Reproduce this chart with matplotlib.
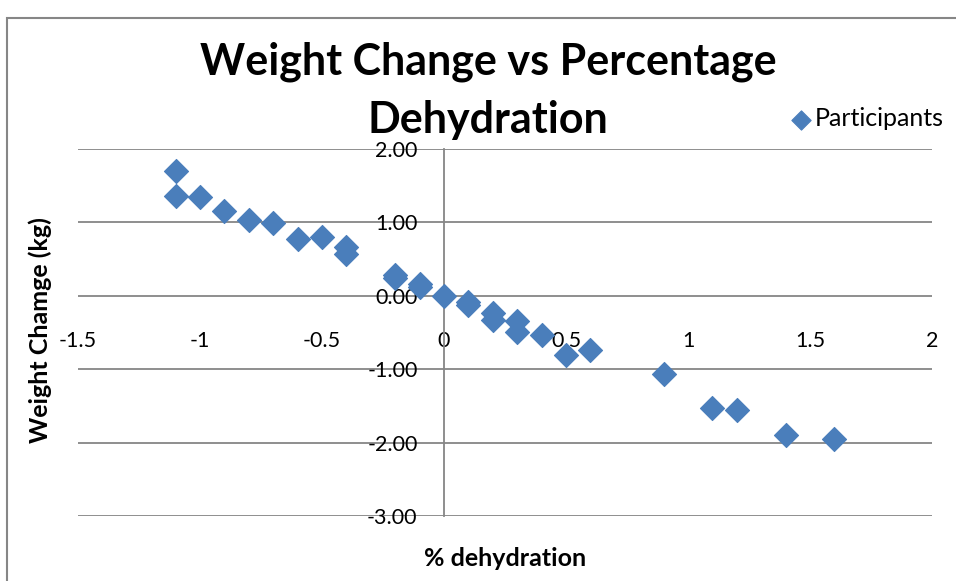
import matplotlib
matplotlib.use("Agg")
import matplotlib.pyplot as plt
from matplotlib.patches import Rectangle

# % dehydration vs weight change (kg)
dehydration = [-1.1, -1.1, -1.0, -0.9, -0.8, -0.7, -0.6, -0.5, -0.4, -0.4,
               -0.2, -0.2, -0.1, -0.1, 0.0, 0.1, 0.1, 0.2, 0.2, 0.3, 0.3,
               0.4, 0.5, 0.6, 0.9, 1.1, 1.2, 1.4, 1.6]
weight_change = [1.70, 1.36, 1.34, 1.15, 1.03, 0.99, 0.77, 0.80, 0.66, 0.57,
                 0.28, 0.24, 0.16, 0.12, 0.00, -0.08, -0.12, -0.24, -0.33, -0.34, -0.50,
                 -0.54, -0.80, -0.74, -1.07, -1.53, -1.55, -1.90, -1.95]

xticks = [-1.5, -1, -0.5, 0, 0.5, 1, 1.5, 2]
yticks = [-3, -2, -1, 0, 1, 2]

plt.rcParams['font.family'] = ['Lato', 'DejaVu Sans']

W, H = 956, 581
fig = plt.figure(figsize=(W / 100, H / 100), dpi=100)
ax = fig.add_axes([78 / W, 1 - 516 / H, (932 - 78) / W, (516 - 149) / H])

# chart frame (right and bottom edges fall outside the picture)
fig.patches.append(Rectangle((7 / W, -0.1), 1.2, 1 - 18 / H + 0.1, transform=fig.transFigure,
                             fill=False, edgecolor='#868686', lw=1.5))

grid_col = '#868686'
for y in yticks:
    ax.axhline(y, color=grid_col, lw=1.3, zorder=1)

ax.scatter(dehydration, weight_change, marker='D', s=150, color='#4A7EBB',
           edgecolor='#4A7EBB', lw=0.8, zorder=3, label='Participants')

ax.set_xlim(-1.5, 2)
ax.set_ylim(-3, 2)
ax.set_xticks(xticks)
ax.set_xticklabels([f"{t:g}" for t in xticks])
ax.set_yticks(yticks)
ax.set_yticklabels([f"{t:.2f}" for t in yticks])

for s in ['top', 'right']:
    ax.spines[s].set_visible(False)
ax.spines['left'].set_position(('data', 0))
ax.spines['left'].set_color(grid_col)
ax.spines['left'].set_linewidth(1.3)
ax.spines['bottom'].set_position(('data', 0))
ax.spines['bottom'].set_visible(False)
ax.tick_params(axis='x', length=0, pad=25, labelsize=15.5)
ax.tick_params(axis='y', length=0, pad=19, labelsize=15.5)
ax.patch.set_visible(False)

fig.text(488 / W, 1 - 62 / H, "Weight Change vs Percentage", ha='center', va='center',
         fontsize=31, fontweight='bold')
fig.text(488 / W, 1 - 120 / H, "Dehydration", ha='center', va='center',
         fontsize=31, fontweight='bold')

fig.text(40 / W, 1 - 330 / H, "Weight Chamge (kg)", rotation=90, ha='center', va='center',
         fontsize=18, fontweight='bold')
fig.text(505 / W, 1 - 558 / H, "% dehydration", ha='center', va='center',
         fontsize=18, fontweight='bold')

fig.legend(loc='center left', bbox_to_anchor=(776 / W, 1 - 119 / H), frameon=False,
           fontsize=18, handletextpad=0.05, handlelength=1.0, borderpad=0, markerscale=0.8)

fig.savefig("out.png", dpi=100)
